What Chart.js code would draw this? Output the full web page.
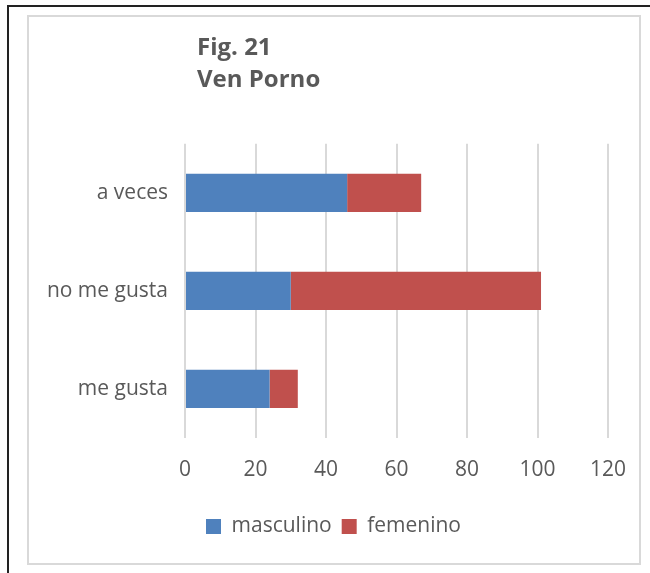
<!DOCTYPE html>
<html>
<head>
<meta charset="utf-8">
<script src="https://cdn.jsdelivr.net/npm/chart.js@4"></script>
<style>
  html, body { margin: 0; padding: 0; background: #fff; }
  body { width: 650px; height: 573px; position: relative; overflow: hidden; }
  #frame { position: absolute; left: 7px; top: 5px; width: 700px; height: 700px;
           border-left: 2px solid #222; border-top: 2px solid #222; }
  #box { position: absolute; left: 27px; top: 15px; width: 610px; height: 546px;
         border: 2px solid #d9d9d9; }
  #box canvas { display: block; }
</style>
</head>
<body>
<div id="frame"></div>
<div id="box"><canvas id="canvas" width="610" height="546"></canvas></div>
<script>
let categories = ['a veces', 'no me gusta', 'me gusta'];
let masculino = [46, 30, 24];
let femenino = [21, 71, 8];
let xTicks = [0, 20, 40, 60, 80, 100, 120];
let titleLines = ['Fig. 21', 'Ven Porno'];

let textColor = '#595959';
Chart.defaults.font.family = '"Open Sans", sans-serif';
Chart.defaults.color = textColor;

// nudge title and legend sideways, like the original
let shiftBoxes = {
  id: 'shiftBoxes',
  afterLayout(chart) {
    chart.titleBlock.left += 12;
    chart.titleBlock.right += 12;
    chart.legend.left += 15;
    chart.legend.right += 15;
  }
};

let canvas = document.getElementById('canvas');

new Chart(canvas, {
  type: 'bar',
  data: {
    labels: categories,
    datasets: [{
      label: 'masculino',
      data: masculino,
      backgroundColor: '#4f81bd',
      barPercentage: 0.39,
      categoryPercentage: 1
    }, {
      label: 'femenino',
      data: femenino,
      backgroundColor: '#c0504d',
      barPercentage: 0.39,
      categoryPercentage: 1
    }]
  },
  options: {
    indexAxis: 'y',
    responsive: false,
    animation: false,
    layout: { padding: { left: 0, right: 31, top: 0, bottom: 16 } },
    scales: {
      x: {
        stacked: true,
        min: 0,
        max: 120,
        afterBuildTicks: (scale) => { scale.ticks = xTicks.map(v => ({ value: v })); },
        afterFit: (scale) => {
          scale.height = 68;
          scale.paddingLeft = 0;
          scale.paddingRight = 0;
        },
        grid: { color: '#d9d9d9', lineWidth: 2, drawTicks: false },
        border: { display: false },
        ticks: { padding: 19, font: { size: 21 }, color: textColor }
      },
      y: {
        stacked: true,
        afterFit: (scale) => { scale.width = 156; },
        grid: { display: false, drawTicks: false },
        border: { display: false },
        ticks: { padding: 17, font: { size: 21 }, color: textColor }
      }
    },
    plugins: {
      title: {
        display: true,
        text: titleLines,
        align: 'start',
        fullSize: false,
        color: textColor,
        font: { size: 24, weight: 'bold', lineHeight: 1.33 },
        padding: { top: 15, bottom: 48 }
      },
      legend: {
        position: 'bottom',
        labels: {
          boxWidth: 15,
          boxHeight: 15,
          padding: 10,
          color: textColor,
          font: { size: 21 }
        }
      },
      tooltip: { enabled: false }
    }
  },
  plugins: [shiftBoxes]
});
</script>
</body>
</html>
